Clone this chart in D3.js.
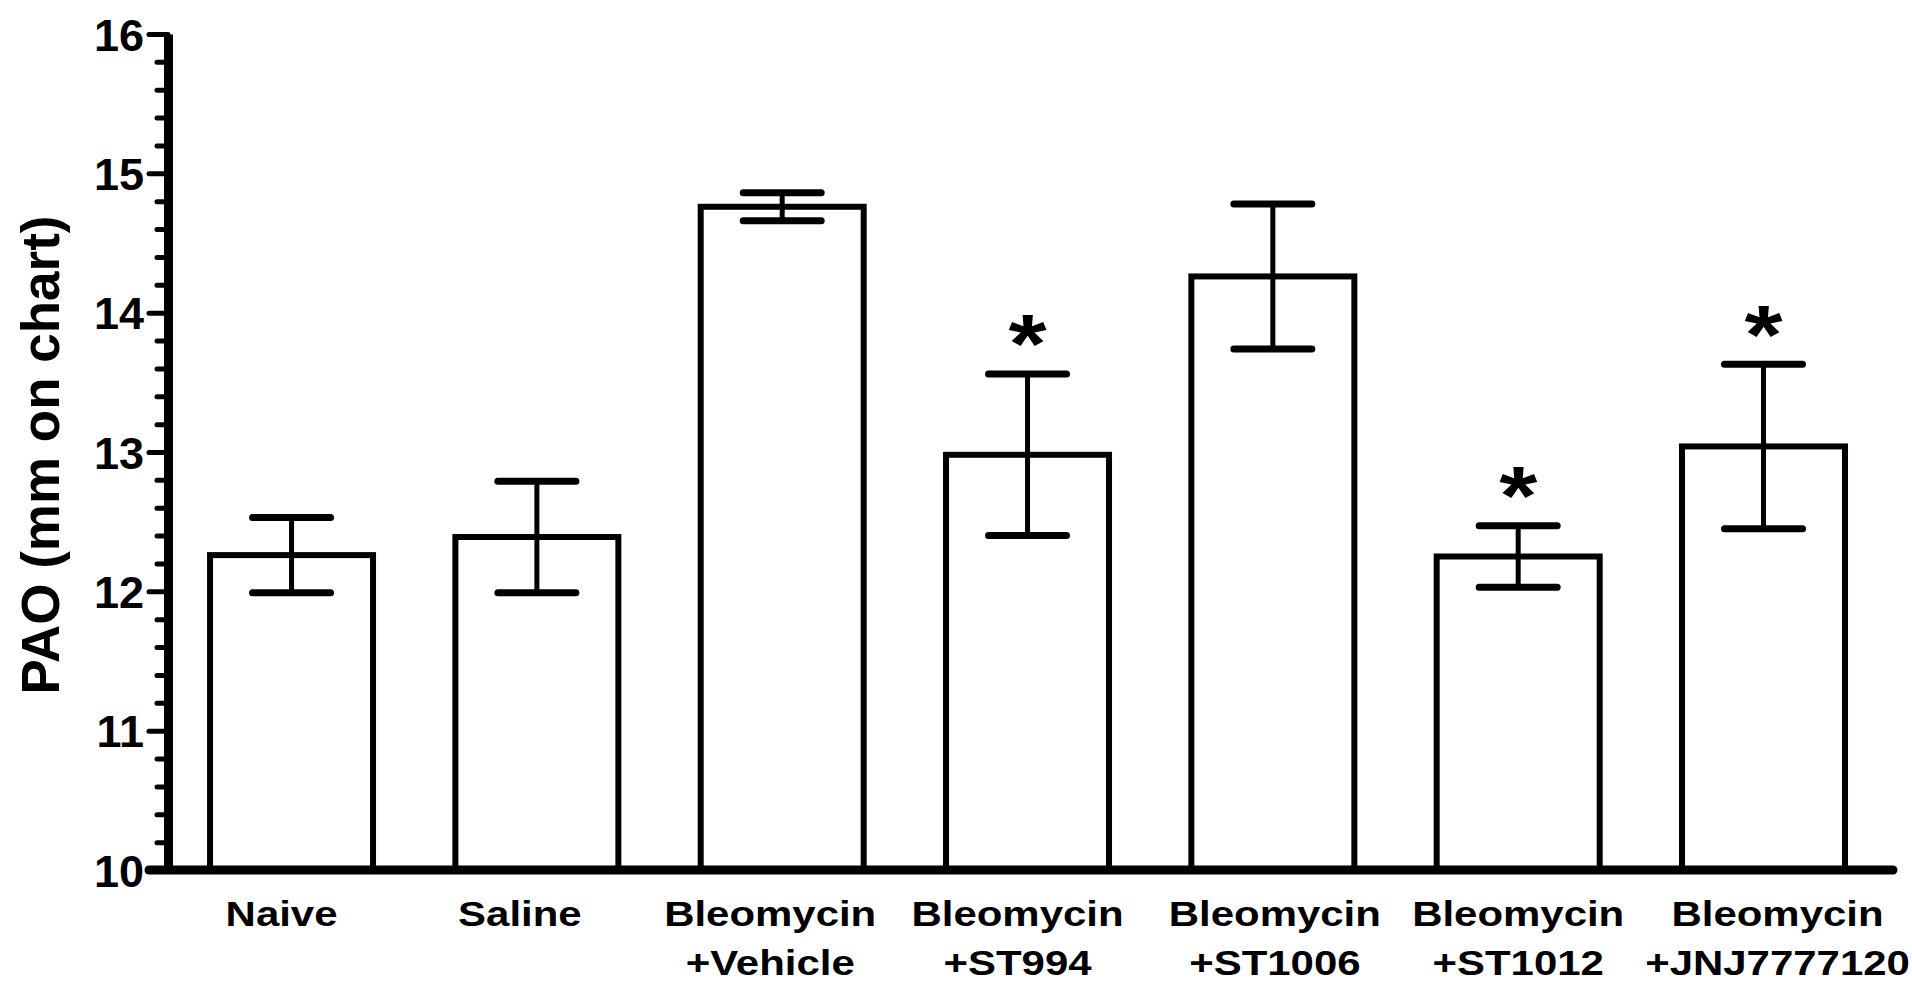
<!DOCTYPE html>
<html>
<head>
<meta charset="utf-8">
<script src="https://cdn.jsdelivr.net/npm/d3@7"></script>
<style>
  body { margin: 0; background: #fff; }
  text { font-family: "Liberation Sans", Arial, sans-serif; font-weight: bold; fill: #000; }
</style>
</head>
<body>
<div id="vis"></div>
<script>
// ==== DATA ====
const categories = ["Naive", "Saline", "Bleomycin\n+Vehicle", "Bleomycin\n+ST994",
  "Bleomycin\n+ST1006", "Bleomycin\n+ST1012", "Bleomycin\n+JNJ7777120"];
const means = [12.26, 12.39, 14.76, 12.98, 14.26, 12.25, 13.04];
const sems = [0.27, 0.40, 0.10, 0.58, 0.52, 0.22, 0.59];
const significant = [false, false, false, true, false, true, true];
const yTicks = [10, 11, 12, 13, 14, 15, 16];
const yLabel = "PAO (mm on chart)";

// ==== PARAMETERS ====
const width = 1912, height = 989;
const axisX = 168;
const stretch = 1.165;                              // x labels are drawn a bit wide
const labelShift = [-10, -17, -12, -10, 2, 0, 14];  // small nudges of the x labels

const svg = d3.select("#vis")
  .append("svg")
  .attr("width", width)
  .attr("height", height);

const y = d3.scaleLinear().domain([10, 16]).range([870, 34]);
const x = d3.scaleBand()
  .domain(categories)
  .range([axisX, 1893])
  .paddingInner(0.3356)
  .paddingOuter(0.1835)
  .align(0.467);

const rows = categories.map((c, i) => ({
  name: c, mean: means[i], sem: sems[i], sig: significant[i]
}));

// ==== BARS ====
svg.selectAll("rect.bar")
  .data(rows)
  .enter()
  .append("rect")
  .attr("class", "bar")
  .attr("x", d => x(d.name))
  .attr("y", d => y(d.mean))
  .attr("width", x.bandwidth())
  .attr("height", d => y(10) - y(d.mean))
  .attr("fill", "#fff")
  .attr("stroke", "#000")
  .attr("stroke-width", 6);

// ==== ERROR BARS ====
const cx = d => x(d.name) + x.bandwidth() / 2;
const capHalf = 39;

svg.selectAll("line.err")
  .data(rows)
  .enter()
  .append("line")
  .attr("class", "err")
  .attr("x1", cx).attr("x2", cx)
  .attr("y1", d => y(d.mean + d.sem))
  .attr("y2", d => y(d.mean - d.sem))
  .attr("stroke", "#000")
  .attr("stroke-width", 5);

[1, -1].forEach(sign => {
  svg.selectAll(null)
    .data(rows)
    .enter()
    .append("line")
    .attr("x1", d => cx(d) - capHalf)
    .attr("x2", d => cx(d) + capHalf)
    .attr("y1", d => y(d.mean + sign * d.sem))
    .attr("y2", d => y(d.mean + sign * d.sem))
    .attr("stroke", "#000")
    .attr("stroke-width", 7)
    .attr("stroke-linecap", "round");
});

// ==== SIGNIFICANCE ====
const starSize = 84;
svg.selectAll("text.star")
  .data(rows.filter(d => d.sig))
  .enter()
  .append("text")
  .attr("class", "star")
  .attr("transform", d => `translate(${cx(d)},${y(d.mean + d.sem) - 36 + 0.42 * starSize}) scale(${stretch},1)`)
  .attr("text-anchor", "middle")
  .style("font-size", starSize + "px")
  .text("*");

// ==== Y AXIS ====
const minorTicks = d3.range(10, 16.0001, 0.2).filter(v => Math.abs(v - Math.round(v)) > 0.01);

svg.append("g")
  .attr("transform", `translate(${axisX},0)`)
  .call(d3.axisLeft(y).tickValues(minorTicks).tickSize(11).tickSizeOuter(0).tickFormat(""))
  .call(g => g.select(".domain").remove())
  .call(g => g.selectAll("line").attr("stroke-width", 5).attr("stroke-linecap", "round"));

const yAxis = svg.append("g")
  .attr("transform", `translate(${axisX},0)`)
  .call(d3.axisLeft(y).tickValues(yTicks).tickSize(19).tickPadding(5)
    .tickSizeOuter(0).tickFormat(d3.format("d")));

yAxis.select(".domain").attr("stroke-width", 9);
yAxis.selectAll(".tick line").attr("stroke-width", 5).attr("stroke-linecap", "round");
yAxis.selectAll(".tick text")
  .attr("dy", "0.36em")
  .style("font-size", "45px")
  .style("font-family", "'Liberation Sans', Arial, sans-serif")
  .style("font-weight", "bold");

// ==== X AXIS ====
const xAxis = svg.append("g")
  .attr("transform", `translate(0,${y(10)})`)
  .call(d3.axisBottom(x).tickSize(0).tickSizeOuter(0).tickFormat(""));

xAxis.select(".domain")
  .attr("d", `M${axisX - 19},0H${x.range()[1]}`)
  .attr("stroke-width", 9)
  .attr("stroke-linecap", "round");

xAxis.selectAll(".tick")
  .append("text")
  .attr("text-anchor", "middle")
  .attr("transform", (d, i) => `translate(${labelShift[i]},0) scale(${stretch},1)`)
  .style("font-size", "36px")
  .style("font-family", "'Liberation Sans', Arial, sans-serif")
  .style("font-weight", "bold")
  .style("fill", "#000")
  .each(function(d) {
    d.split("\n").forEach((l, i) => {
      d3.select(this).append("tspan")
        .attr("x", 0)
        .attr("y", 56 + i * 49)
        .text(l);
    });
  });

// ==== Y LABEL ====
svg.append("text")
  .attr("transform", "translate(59,455) rotate(-90)")
  .attr("text-anchor", "middle")
  .style("font-size", "53px")
  .text(yLabel);
</script>
</body>
</html>
